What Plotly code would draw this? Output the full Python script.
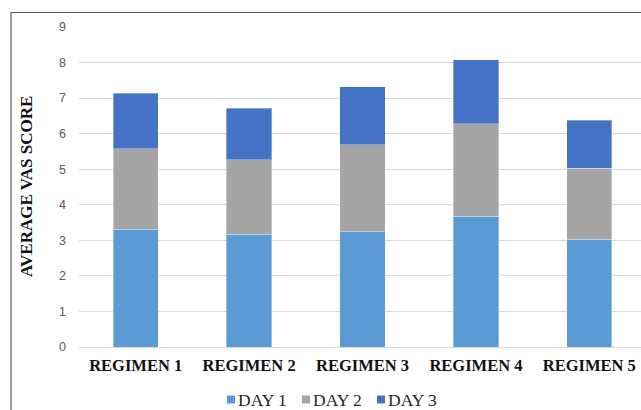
import plotly.graph_objects as go

categories = ["REGIMEN 1", "REGIMEN 2", "REGIMEN 3", "REGIMEN 4", "REGIMEN 5"]
day1 = [3.31, 3.17, 3.24, 3.68, 3.03]
day2 = [2.27, 2.09, 2.45, 2.60, 2.00]
day3 = [1.55, 1.45, 1.63, 1.80, 1.35]
series_names = ["DAY 1", "DAY 2", "DAY 3"]
colors = ["#5B9BD5", "#A5A5A5", "#4472C4"]
y_ticks = list(range(0, 10))

W, H = 641, 410
plot_left, plot_top, plot_bottom = 79, 27, 347

fig = go.Figure()
for name, vals, col in zip(series_names, [day1, day2, day3], colors):
    fig.add_trace(go.Bar(
        x=categories, y=vals, name=name, marker_color=col,
        marker_line=dict(color="rgba(255,255,255,0.35)", width=1),
        showlegend=False,
    ))

pw = W - plot_left
ph = plot_bottom - plot_top
def px(x):
    return (x - plot_left) / pw
def py(y):
    return (plot_bottom - y) / ph

# hand-placed legend: small square key followed by the series name
legend_keys_x = [227, 302, 377]
shapes = []
annotations = []
for name, col, kx in zip(series_names, colors, legend_keys_x):
    shapes.append(dict(type="rect", xref="paper", yref="paper",
                       x0=px(kx), x1=px(kx + 8), y0=py(395.5), y1=py(403.5),
                       fillcolor=col, line=dict(width=0)))
    annotations.append(dict(text=name, xref="paper", yref="paper",
                            x=px(kx + 9), y=py(400), xanchor="left", yanchor="middle",
                            showarrow=False,
                            font=dict(family="Liberation Serif", size=17.5, color="#262626")))

annotations.append(dict(
    text="<b>AVERAGE VAS SCORE</b>", textangle=-90,
    xref="paper", yref="paper", x=px(26), y=py(187),
    xanchor="center", yanchor="middle", showarrow=False,
    font=dict(family="Liberation Serif", size=17, color="#111111"),
))

# chart frame (top and left edges)
shapes += [
    dict(type="line", xref="paper", yref="paper", x0=px(11), x1=px(W + 5),
         y0=py(12.5), y1=py(12.5), line=dict(color="#595959", width=1.2)),
    dict(type="line", xref="paper", yref="paper", x0=px(11), x1=px(11),
         y0=py(12.5), y1=py(H + 5), line=dict(color="#595959", width=1.2)),
]

fig.update_layout(
    width=W, height=H,
    margin=dict(l=plot_left, r=0, t=plot_top, b=H - plot_bottom),
    paper_bgcolor="white", plot_bgcolor="white",
    barmode="stack", bargap=0.6, showlegend=False,
    xaxis=dict(
        range=[-0.5, -0.5 + pw / 113.4],
        showgrid=False, zeroline=False, showline=False,
        tickfont=dict(family="Liberation Serif", size=16.5, color="#111111", weight="bold"),
        ticks="", ticklabelstandoff=6,
    ),
    yaxis=dict(
        range=[0, 9], tickvals=y_ticks,
        showgrid=True, gridcolor="#D9D9D9", gridwidth=1,
        zeroline=True, zerolinecolor="#D9D9D9", zerolinewidth=1,
        showline=False, ticks="",
        tickfont=dict(family="Liberation Sans", size=12.5, color="#595959"),
        ticklabelstandoff=12,
    ),
    annotations=annotations,
    shapes=shapes,
)

fig.write_html("out.html")
